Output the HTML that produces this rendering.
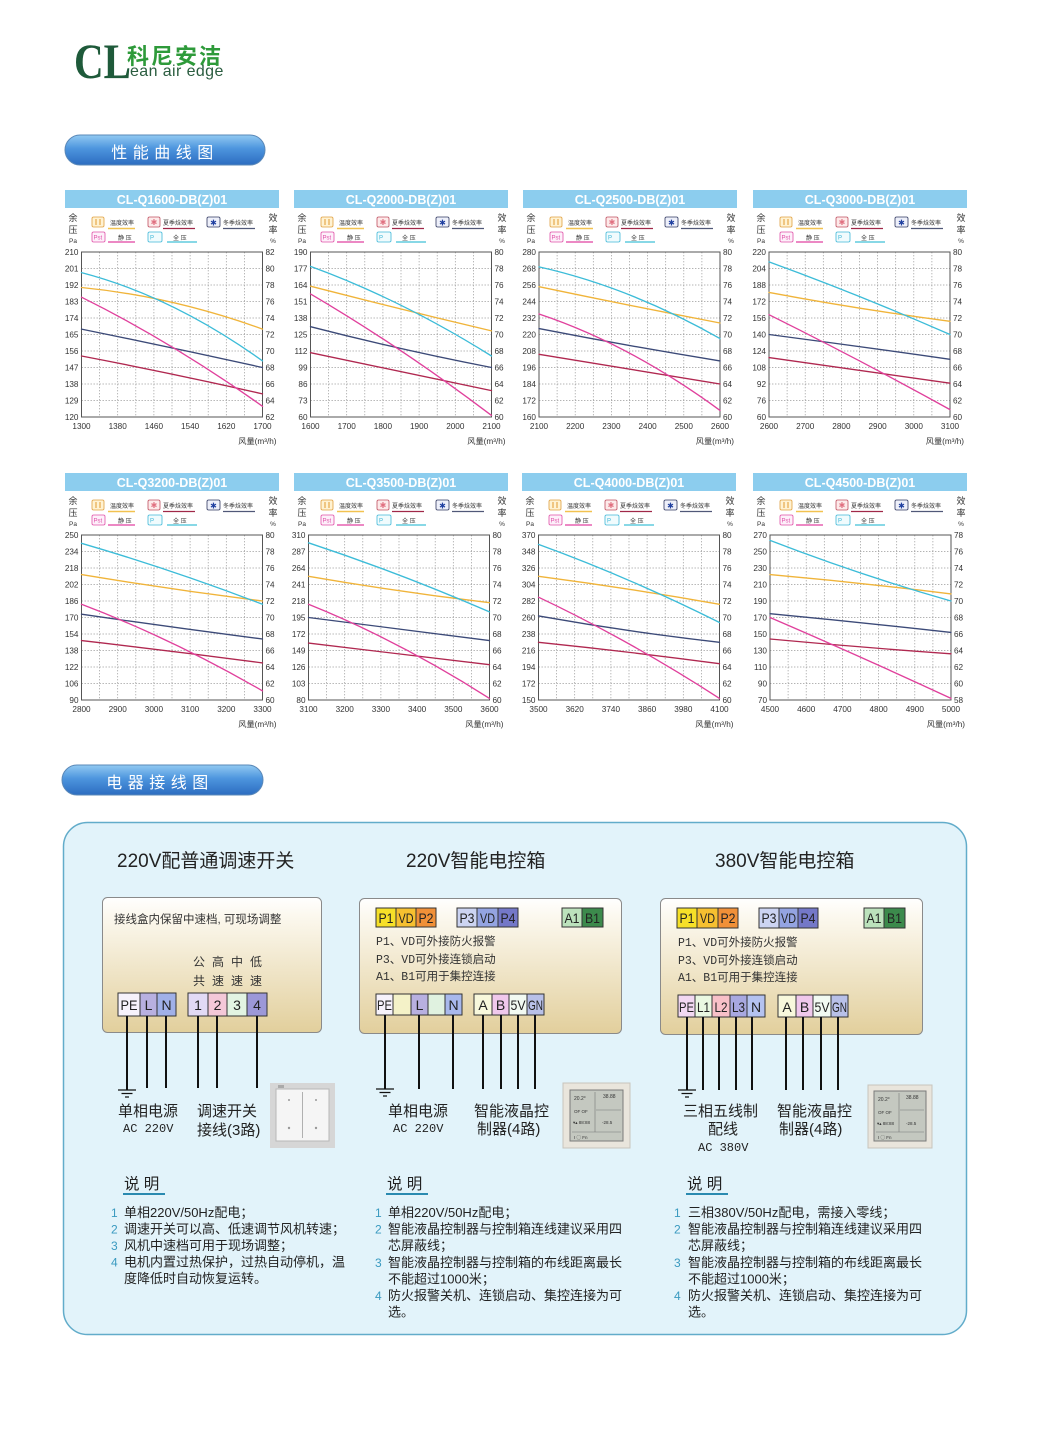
<!DOCTYPE html>
<html><head><meta charset="utf-8">
<style>
html,body{margin:0;padding:0;background:#fff}
svg{display:block}
svg text{font-family:"Liberation Sans","Noto Sans CJK SC",sans-serif}
.tk{font-size:8.2px;fill:#333}
.tt{font-size:12.5px;font-weight:bold;fill:#fff;text-anchor:middle}
.ax{font-size:9px;fill:#333;text-anchor:middle}
.pa{font-size:6.5px;fill:#333;text-anchor:middle}
.lg{font-size:6px;fill:#333}
.c{fill:none;stroke-width:1.35;stroke-linejoin:round;stroke-linecap:round}
.cy{stroke:#3cbcd8}.or{stroke:#f0b43a}.mg{stroke:#e0409c}.nv{stroke:#3c4a78}.cr{stroke:#b02850}
.w{stroke:#111;stroke-width:2;fill:none}
.tm{font-size:14px;fill:#222;text-anchor:middle}
.bt{font-size:11.5px;fill:#333;font-family:"Liberation Mono","Noto Sans CJK SC",monospace}
.lb{font-size:15px;fill:#222}
.ac{font-size:12px;fill:#222;font-family:"Liberation Mono",monospace}
.st{font-size:19px;fill:#222}
.nt{font-size:13px;fill:#222}
.nn{font-size:12px;fill:#3a9ac0}
.sm{font-size:15.5px;fill:#222}
</style></head><body>
<svg width="1049" height="1432" viewBox="0 0 1049 1432" xmlns="http://www.w3.org/2000/svg">
<defs>
<linearGradient id="pill" x1="0" y1="0" x2="0" y2="1">
<stop offset="0" stop-color="#92caf2"/><stop offset=".45" stop-color="#4d95de"/><stop offset="1" stop-color="#2c6cc0"/>
</linearGradient>
<linearGradient id="box" x1="0" y1="0" x2="0" y2="1">
<stop offset="0" stop-color="#ffffff"/><stop offset=".12" stop-color="#fcf9f0"/><stop offset="1" stop-color="#e2cf9c"/>
</linearGradient>
<g id="grid">
<path d="M0 16.5H181M0 33H181M0 49.5H181M0 66H181M0 82.5H181M0 99H181M0 115.5H181M0 132H181M0 148.5H181M18.1 0V165M36.2 0V165M54.3 0V165M72.4 0V165M90.5 0V165M108.6 0V165M126.7 0V165M144.8 0V165M162.9 0V165" stroke="#9a9a9a" stroke-width=".7" stroke-dasharray="1.4 1.6" fill="none"/>
<rect x="0" y="0" width="181" height="165" fill="none" stroke="#555" stroke-width="1"/>
</g>
</defs>
<rect width="1049" height="1432" fill="#fff"/>

<!-- Logo -->
<text x="74" y="78" font-family="Liberation Serif" font-weight="bold" font-size="50" fill="#1e5a3a" textLength="57" lengthAdjust="spacingAndGlyphs" style="font-family:'Liberation Serif',serif">CL</text>
<text x="127" y="64" font-size="22" font-weight="bold" fill="#2e9a3a" letter-spacing="2">科尼安洁</text>
<text x="130" y="76" font-size="16" fill="#2b5d40" letter-spacing=".4">ean air edge</text>

<!-- Section pill 1 -->
<rect x="65" y="135" width="200" height="30" rx="15" fill="url(#pill)" stroke="#5a88b8" stroke-width="1"/>
<text x="165" y="158" font-size="16" fill="#fff" text-anchor="middle" letter-spacing="5.5">性能曲线图</text>

<!-- ================= CHART 1 ================= -->
<g transform="translate(65,190)">
<rect width="214" height="18" fill="#8ccdee"/>
<text class="tt" x="107" y="14">CL-Q1600-DB(Z)01</text>
<text class="ax" x="8" y="31">余</text><text class="ax" x="8" y="43">压</text><text class="pa" x="8" y="53">Pa</text>
<text class="ax" x="208" y="31">效</text><text class="ax" x="208" y="43">率</text><text class="pa" x="208" y="53">%</text>
<rect x="27" y="27" width="12" height="10" rx="1.5" fill="#fff2d2" stroke="#e0a040" stroke-width=".8"/><path d="M31 29v6M35 29v6" stroke="#e09a30" stroke-width="1"/>
<text class="lg" x="45" y="35">温度效率</text><path d="M43 38.5H70" stroke="#f2c250" stroke-width="1.5"/>
<rect x="83" y="27" width="12" height="10" rx="1.5" fill="#fdeaea" stroke="#c05060" stroke-width=".8"/><text x="89" y="35" font-size="8" fill="#e07080" text-anchor="middle">✱</text>
<text class="lg" x="98" y="35">夏季焓效率</text><path d="M98 38.5H130" stroke="#a02848" stroke-width="1.3"/>
<rect x="142" y="27" width="13" height="10" rx="1.5" fill="#eef0fa" stroke="#303860" stroke-width=".8"/><text x="148.5" y="35.5" font-size="8" fill="#2040a0" text-anchor="middle">✱</text>
<text class="lg" x="158" y="35">冬季焓效率</text><path d="M158 38.5H190" stroke="#505878" stroke-width="1.3"/>
<rect x="27" y="42" width="13" height="10" rx="1.5" fill="#fdf0fa" stroke="#e050a8" stroke-width=".8"/><text x="28.5" y="49.5" font-size="6" fill="#e050a8">Pst</text>
<text class="lg" x="53" y="50">静 压</text><path d="M43 52H70" stroke="#e040a0" stroke-width="1.3"/>
<rect x="83" y="42" width="14" height="10" rx="1.5" fill="#f0fbfd" stroke="#40b8d8" stroke-width=".8"/><text x="85" y="49.5" font-size="6" fill="#40b8d8">P</text>
<text class="lg" x="108" y="50">全 压</text><path d="M102 52H132" stroke="#40c0d8" stroke-width="1.3"/>
<g transform="translate(16.5,62)">
<use href="#grid"/>
<path class="c cr" d="M0,104Q90.5,121.25 181,141.9"/>
<path class="c nv" d="M0,77.1Q90.5,95.6 181,115.5"/>
<path class="c mg" d="M0,45.2Q90.5,90.05 181,154.3"/>
<path class="c or" d="M0,35.5Q90.5,44.4 181,77.1"/>
<path class="c cy" d="M0,20.6Q90.5,44.15 181,108.9"/>
<text class="tk" text-anchor="end"><tspan x="-3" y="3">210</tspan><tspan x="-3" y="19.5">201</tspan><tspan x="-3" y="36">192</tspan><tspan x="-3" y="52.5">183</tspan><tspan x="-3" y="69">174</tspan><tspan x="-3" y="85.5">165</tspan><tspan x="-3" y="102">156</tspan><tspan x="-3" y="118.5">147</tspan><tspan x="-3" y="135">138</tspan><tspan x="-3" y="151.5">129</tspan><tspan x="-3" y="168">120</tspan></text>
<text class="tk"><tspan x="184" y="3">82</tspan><tspan x="184" y="19.5">80</tspan><tspan x="184" y="36">78</tspan><tspan x="184" y="52.5">76</tspan><tspan x="184" y="69">74</tspan><tspan x="184" y="85.5">72</tspan><tspan x="184" y="102">70</tspan><tspan x="184" y="118.5">68</tspan><tspan x="184" y="135">66</tspan><tspan x="184" y="151.5">64</tspan><tspan x="184" y="168">62</tspan></text>
<text class="tk" text-anchor="middle"><tspan x="0" y="177">1300</tspan><tspan x="36.2" y="177">1380</tspan><tspan x="72.4" y="177">1460</tspan><tspan x="108.6" y="177">1540</tspan><tspan x="144.8" y="177">1620</tspan><tspan x="181" y="177">1700</tspan></text>
<text class="tk" x="195" y="192" text-anchor="end">风量(m³/h)</text>
</g>
</g>

<!-- ================= CHART 2 ================= -->
<g transform="translate(294,190)">
<rect width="214" height="18" fill="#8ccdee"/>
<text class="tt" x="107" y="14">CL-Q2000-DB(Z)01</text>
<text class="ax" x="8" y="31">余</text><text class="ax" x="8" y="43">压</text><text class="pa" x="8" y="53">Pa</text>
<text class="ax" x="208" y="31">效</text><text class="ax" x="208" y="43">率</text><text class="pa" x="208" y="53">%</text>
<rect x="27" y="27" width="12" height="10" rx="1.5" fill="#fff2d2" stroke="#e0a040" stroke-width=".8"/><path d="M31 29v6M35 29v6" stroke="#e09a30" stroke-width="1"/>
<text class="lg" x="45" y="35">温度效率</text><path d="M43 38.5H70" stroke="#f2c250" stroke-width="1.5"/>
<rect x="83" y="27" width="12" height="10" rx="1.5" fill="#fdeaea" stroke="#c05060" stroke-width=".8"/><text x="89" y="35" font-size="8" fill="#e07080" text-anchor="middle">✱</text>
<text class="lg" x="98" y="35">夏季焓效率</text><path d="M98 38.5H130" stroke="#a02848" stroke-width="1.3"/>
<rect x="142" y="27" width="13" height="10" rx="1.5" fill="#eef0fa" stroke="#303860" stroke-width=".8"/><text x="148.5" y="35.5" font-size="8" fill="#2040a0" text-anchor="middle">✱</text>
<text class="lg" x="158" y="35">冬季焓效率</text><path d="M158 38.5H190" stroke="#505878" stroke-width="1.3"/>
<rect x="27" y="42" width="13" height="10" rx="1.5" fill="#fdf0fa" stroke="#e050a8" stroke-width=".8"/><text x="28.5" y="49.5" font-size="6" fill="#e050a8">Pst</text>
<text class="lg" x="53" y="50">静 压</text><path d="M43 52H70" stroke="#e040a0" stroke-width="1.3"/>
<rect x="83" y="42" width="14" height="10" rx="1.5" fill="#f0fbfd" stroke="#40b8d8" stroke-width=".8"/><text x="85" y="49.5" font-size="6" fill="#40b8d8">P</text>
<text class="lg" x="108" y="50">全 压</text><path d="M102 52H132" stroke="#40c0d8" stroke-width="1.3"/>
<g transform="translate(16.5,62)">
<use href="#grid"/>
<path class="c cr" d="M0,100.7Q90.5,119.65 181,138.6"/>
<path class="c nv" d="M0,74.7Q90.5,98 181,115.5"/>
<path class="c mg" d="M0,41.9Q90.5,95.05 181,163.4"/>
<path class="c or" d="M0,34.2Q90.5,57.45 181,78.9"/>
<path class="c cy" d="M0,14.4Q90.5,47.4 181,104"/>
<text class="tk" text-anchor="end"><tspan x="-3" y="3">190</tspan><tspan x="-3" y="19.5">177</tspan><tspan x="-3" y="36">164</tspan><tspan x="-3" y="52.5">151</tspan><tspan x="-3" y="69">138</tspan><tspan x="-3" y="85.5">125</tspan><tspan x="-3" y="102">112</tspan><tspan x="-3" y="118.5">99</tspan><tspan x="-3" y="135">86</tspan><tspan x="-3" y="151.5">73</tspan><tspan x="-3" y="168">60</tspan></text>
<text class="tk"><tspan x="184" y="3">80</tspan><tspan x="184" y="19.5">78</tspan><tspan x="184" y="36">76</tspan><tspan x="184" y="52.5">74</tspan><tspan x="184" y="69">72</tspan><tspan x="184" y="85.5">70</tspan><tspan x="184" y="102">68</tspan><tspan x="184" y="118.5">66</tspan><tspan x="184" y="135">64</tspan><tspan x="184" y="151.5">62</tspan><tspan x="184" y="168">60</tspan></text>
<text class="tk" text-anchor="middle"><tspan x="0" y="177">1600</tspan><tspan x="36.2" y="177">1700</tspan><tspan x="72.4" y="177">1800</tspan><tspan x="108.6" y="177">1900</tspan><tspan x="144.8" y="177">2000</tspan><tspan x="181" y="177">2100</tspan></text>
<text class="tk" x="195" y="192" text-anchor="end">风量(m³/h)</text>
</g>
</g>

<!-- ================= CHART 3 ================= -->
<g transform="translate(523,190)">
<rect width="214" height="18" fill="#8ccdee"/>
<text class="tt" x="107" y="14">CL-Q2500-DB(Z)01</text>
<text class="ax" x="8" y="31">余</text><text class="ax" x="8" y="43">压</text><text class="pa" x="8" y="53">Pa</text>
<text class="ax" x="208" y="31">效</text><text class="ax" x="208" y="43">率</text><text class="pa" x="208" y="53">%</text>
<rect x="27" y="27" width="12" height="10" rx="1.5" fill="#fff2d2" stroke="#e0a040" stroke-width=".8"/><path d="M31 29v6M35 29v6" stroke="#e09a30" stroke-width="1"/>
<text class="lg" x="45" y="35">温度效率</text><path d="M43 38.5H70" stroke="#f2c250" stroke-width="1.5"/>
<rect x="83" y="27" width="12" height="10" rx="1.5" fill="#fdeaea" stroke="#c05060" stroke-width=".8"/><text x="89" y="35" font-size="8" fill="#e07080" text-anchor="middle">✱</text>
<text class="lg" x="98" y="35">夏季焓效率</text><path d="M98 38.5H130" stroke="#a02848" stroke-width="1.3"/>
<rect x="142" y="27" width="13" height="10" rx="1.5" fill="#eef0fa" stroke="#303860" stroke-width=".8"/><text x="148.5" y="35.5" font-size="8" fill="#2040a0" text-anchor="middle">✱</text>
<text class="lg" x="158" y="35">冬季焓效率</text><path d="M158 38.5H190" stroke="#505878" stroke-width="1.3"/>
<rect x="27" y="42" width="13" height="10" rx="1.5" fill="#fdf0fa" stroke="#e050a8" stroke-width=".8"/><text x="28.5" y="49.5" font-size="6" fill="#e050a8">Pst</text>
<text class="lg" x="53" y="50">静 压</text><path d="M43 52H70" stroke="#e040a0" stroke-width="1.3"/>
<rect x="83" y="42" width="14" height="10" rx="1.5" fill="#f0fbfd" stroke="#40b8d8" stroke-width=".8"/><text x="85" y="49.5" font-size="6" fill="#40b8d8">P</text>
<text class="lg" x="108" y="50">全 压</text><path d="M102 52H132" stroke="#40c0d8" stroke-width="1.3"/>
<g transform="translate(16,62)">
<use href="#grid"/>
<path class="c cr" d="M0,102.3Q90.5,117.25 181,132"/>
<path class="c nv" d="M0,76.6Q90.5,94.25 181,108.9"/>
<path class="c mg" d="M0,62Q90.5,92.1 181,158.4"/>
<path class="c or" d="M0,34.7Q90.5,53.65 181,71"/>
<path class="c cy" d="M0,14.9Q90.5,35.05 181,86.6"/>
<text class="tk" text-anchor="end"><tspan x="-3" y="3">280</tspan><tspan x="-3" y="19.5">268</tspan><tspan x="-3" y="36">256</tspan><tspan x="-3" y="52.5">244</tspan><tspan x="-3" y="69">232</tspan><tspan x="-3" y="85.5">220</tspan><tspan x="-3" y="102">208</tspan><tspan x="-3" y="118.5">196</tspan><tspan x="-3" y="135">184</tspan><tspan x="-3" y="151.5">172</tspan><tspan x="-3" y="168">160</tspan></text>
<text class="tk"><tspan x="184" y="3">80</tspan><tspan x="184" y="19.5">78</tspan><tspan x="184" y="36">76</tspan><tspan x="184" y="52.5">74</tspan><tspan x="184" y="69">72</tspan><tspan x="184" y="85.5">70</tspan><tspan x="184" y="102">68</tspan><tspan x="184" y="118.5">66</tspan><tspan x="184" y="135">64</tspan><tspan x="184" y="151.5">62</tspan><tspan x="184" y="168">60</tspan></text>
<text class="tk" text-anchor="middle"><tspan x="0" y="177">2100</tspan><tspan x="36.2" y="177">2200</tspan><tspan x="72.4" y="177">2300</tspan><tspan x="108.6" y="177">2400</tspan><tspan x="144.8" y="177">2500</tspan><tspan x="181" y="177">2600</tspan></text>
<text class="tk" x="195" y="192" text-anchor="end">风量(m³/h)</text>
</g>
</g>

<!-- ================= CHART 4 ================= -->
<g transform="translate(753,190)">
<rect width="214" height="18" fill="#8ccdee"/>
<text class="tt" x="107" y="14">CL-Q3000-DB(Z)01</text>
<text class="ax" x="8" y="31">余</text><text class="ax" x="8" y="43">压</text><text class="pa" x="8" y="53">Pa</text>
<text class="ax" x="208" y="31">效</text><text class="ax" x="208" y="43">率</text><text class="pa" x="208" y="53">%</text>
<rect x="27" y="27" width="12" height="10" rx="1.5" fill="#fff2d2" stroke="#e0a040" stroke-width=".8"/><path d="M31 29v6M35 29v6" stroke="#e09a30" stroke-width="1"/>
<text class="lg" x="45" y="35">温度效率</text><path d="M43 38.5H70" stroke="#f2c250" stroke-width="1.5"/>
<rect x="83" y="27" width="12" height="10" rx="1.5" fill="#fdeaea" stroke="#c05060" stroke-width=".8"/><text x="89" y="35" font-size="8" fill="#e07080" text-anchor="middle">✱</text>
<text class="lg" x="98" y="35">夏季焓效率</text><path d="M98 38.5H130" stroke="#a02848" stroke-width="1.3"/>
<rect x="142" y="27" width="13" height="10" rx="1.5" fill="#eef0fa" stroke="#303860" stroke-width=".8"/><text x="148.5" y="35.5" font-size="8" fill="#2040a0" text-anchor="middle">✱</text>
<text class="lg" x="158" y="35">冬季焓效率</text><path d="M158 38.5H190" stroke="#505878" stroke-width="1.3"/>
<rect x="27" y="42" width="13" height="10" rx="1.5" fill="#fdf0fa" stroke="#e050a8" stroke-width=".8"/><text x="28.5" y="49.5" font-size="6" fill="#e050a8">Pst</text>
<text class="lg" x="53" y="50">静 压</text><path d="M43 52H70" stroke="#e040a0" stroke-width="1.3"/>
<rect x="83" y="42" width="14" height="10" rx="1.5" fill="#f0fbfd" stroke="#40b8d8" stroke-width=".8"/><text x="85" y="49.5" font-size="6" fill="#40b8d8">P</text>
<text class="lg" x="108" y="50">全 压</text><path d="M102 52H132" stroke="#40c0d8" stroke-width="1.3"/>
<g transform="translate(16,62)">
<use href="#grid"/>
<path class="c cr" d="M0,105.6Q90.5,118.4 181,131.2"/>
<path class="c nv" d="M0,82.5Q90.5,94.4 181,107.3"/>
<path class="c mg" d="M0,62.7Q90.5,107.65 181,157.6"/>
<path class="c or" d="M0,40.4Q90.5,57.35 181,69.3"/>
<path class="c cy" d="M0,9.9Q90.5,42.9 181,82.5"/>
<text class="tk" text-anchor="end"><tspan x="-3" y="3">220</tspan><tspan x="-3" y="19.5">204</tspan><tspan x="-3" y="36">188</tspan><tspan x="-3" y="52.5">172</tspan><tspan x="-3" y="69">156</tspan><tspan x="-3" y="85.5">140</tspan><tspan x="-3" y="102">124</tspan><tspan x="-3" y="118.5">108</tspan><tspan x="-3" y="135">92</tspan><tspan x="-3" y="151.5">76</tspan><tspan x="-3" y="168">60</tspan></text>
<text class="tk"><tspan x="184" y="3">80</tspan><tspan x="184" y="19.5">78</tspan><tspan x="184" y="36">76</tspan><tspan x="184" y="52.5">74</tspan><tspan x="184" y="69">72</tspan><tspan x="184" y="85.5">70</tspan><tspan x="184" y="102">68</tspan><tspan x="184" y="118.5">66</tspan><tspan x="184" y="135">64</tspan><tspan x="184" y="151.5">62</tspan><tspan x="184" y="168">60</tspan></text>
<text class="tk" text-anchor="middle"><tspan x="0" y="177">2600</tspan><tspan x="36.2" y="177">2700</tspan><tspan x="72.4" y="177">2800</tspan><tspan x="108.6" y="177">2900</tspan><tspan x="144.8" y="177">3000</tspan><tspan x="181" y="177">3100</tspan></text>
<text class="tk" x="195" y="192" text-anchor="end">风量(m³/h)</text>
</g>
</g>

<!-- ================= CHART 5 ================= -->
<g transform="translate(65,473)">
<rect width="214" height="18" fill="#8ccdee"/>
<text class="tt" x="107" y="14">CL-Q3200-DB(Z)01</text>
<text class="ax" x="8" y="31">余</text><text class="ax" x="8" y="43">压</text><text class="pa" x="8" y="53">Pa</text>
<text class="ax" x="208" y="31">效</text><text class="ax" x="208" y="43">率</text><text class="pa" x="208" y="53">%</text>
<rect x="27" y="27" width="12" height="10" rx="1.5" fill="#fff2d2" stroke="#e0a040" stroke-width=".8"/><path d="M31 29v6M35 29v6" stroke="#e09a30" stroke-width="1"/>
<text class="lg" x="45" y="35">温度效率</text><path d="M43 38.5H70" stroke="#f2c250" stroke-width="1.5"/>
<rect x="83" y="27" width="12" height="10" rx="1.5" fill="#fdeaea" stroke="#c05060" stroke-width=".8"/><text x="89" y="35" font-size="8" fill="#e07080" text-anchor="middle">✱</text>
<text class="lg" x="98" y="35">夏季焓效率</text><path d="M98 38.5H130" stroke="#a02848" stroke-width="1.3"/>
<rect x="142" y="27" width="13" height="10" rx="1.5" fill="#eef0fa" stroke="#303860" stroke-width=".8"/><text x="148.5" y="35.5" font-size="8" fill="#2040a0" text-anchor="middle">✱</text>
<text class="lg" x="158" y="35">冬季焓效率</text><path d="M158 38.5H190" stroke="#505878" stroke-width="1.3"/>
<rect x="27" y="42" width="13" height="10" rx="1.5" fill="#fdf0fa" stroke="#e050a8" stroke-width=".8"/><text x="28.5" y="49.5" font-size="6" fill="#e050a8">Pst</text>
<text class="lg" x="53" y="50">静 压</text><path d="M43 52H70" stroke="#e040a0" stroke-width="1.3"/>
<rect x="83" y="42" width="14" height="10" rx="1.5" fill="#f0fbfd" stroke="#40b8d8" stroke-width=".8"/><text x="85" y="49.5" font-size="6" fill="#40b8d8">P</text>
<text class="lg" x="108" y="50">全 压</text><path d="M102 52H132" stroke="#40c0d8" stroke-width="1.3"/>
<g transform="translate(16.5,62)">
<use href="#grid"/>
<path class="c cr" d="M0,105.6Q90.5,115.95 181,127.9"/>
<path class="c nv" d="M0,79.2Q90.5,92.4 181,104"/>
<path class="c mg" d="M0,69.3Q90.5,103.6 181,155.9"/>
<path class="c or" d="M0,39.6Q90.5,54.6 181,66"/>
<path class="c cy" d="M0,8.3Q90.5,34.6 181,69.3"/>
<text class="tk" text-anchor="end"><tspan x="-3" y="3">250</tspan><tspan x="-3" y="19.5">234</tspan><tspan x="-3" y="36">218</tspan><tspan x="-3" y="52.5">202</tspan><tspan x="-3" y="69">186</tspan><tspan x="-3" y="85.5">170</tspan><tspan x="-3" y="102">154</tspan><tspan x="-3" y="118.5">138</tspan><tspan x="-3" y="135">122</tspan><tspan x="-3" y="151.5">106</tspan><tspan x="-3" y="168">90</tspan></text>
<text class="tk"><tspan x="184" y="3">80</tspan><tspan x="184" y="19.5">78</tspan><tspan x="184" y="36">76</tspan><tspan x="184" y="52.5">74</tspan><tspan x="184" y="69">72</tspan><tspan x="184" y="85.5">70</tspan><tspan x="184" y="102">68</tspan><tspan x="184" y="118.5">66</tspan><tspan x="184" y="135">64</tspan><tspan x="184" y="151.5">62</tspan><tspan x="184" y="168">60</tspan></text>
<text class="tk" text-anchor="middle"><tspan x="0" y="177">2800</tspan><tspan x="36.2" y="177">2900</tspan><tspan x="72.4" y="177">3000</tspan><tspan x="108.6" y="177">3100</tspan><tspan x="144.8" y="177">3200</tspan><tspan x="181" y="177">3300</tspan></text>
<text class="tk" x="195" y="192" text-anchor="end">风量(m³/h)</text>
</g>
</g>

<!-- ================= CHART 6 ================= -->
<g transform="translate(294,473)">
<rect width="214" height="18" fill="#8ccdee"/>
<text class="tt" x="107" y="14">CL-Q3500-DB(Z)01</text>
<text class="ax" x="8" y="31">余</text><text class="ax" x="8" y="43">压</text><text class="pa" x="8" y="53">Pa</text>
<text class="ax" x="208" y="31">效</text><text class="ax" x="208" y="43">率</text><text class="pa" x="208" y="53">%</text>
<rect x="27" y="27" width="12" height="10" rx="1.5" fill="#fff2d2" stroke="#e0a040" stroke-width=".8"/><path d="M31 29v6M35 29v6" stroke="#e09a30" stroke-width="1"/>
<text class="lg" x="45" y="35">温度效率</text><path d="M43 38.5H70" stroke="#f2c250" stroke-width="1.5"/>
<rect x="83" y="27" width="12" height="10" rx="1.5" fill="#fdeaea" stroke="#c05060" stroke-width=".8"/><text x="89" y="35" font-size="8" fill="#e07080" text-anchor="middle">✱</text>
<text class="lg" x="98" y="35">夏季焓效率</text><path d="M98 38.5H130" stroke="#a02848" stroke-width="1.3"/>
<rect x="142" y="27" width="13" height="10" rx="1.5" fill="#eef0fa" stroke="#303860" stroke-width=".8"/><text x="148.5" y="35.5" font-size="8" fill="#2040a0" text-anchor="middle">✱</text>
<text class="lg" x="158" y="35">冬季焓效率</text><path d="M158 38.5H190" stroke="#505878" stroke-width="1.3"/>
<rect x="27" y="42" width="13" height="10" rx="1.5" fill="#fdf0fa" stroke="#e050a8" stroke-width=".8"/><text x="28.5" y="49.5" font-size="6" fill="#e050a8">Pst</text>
<text class="lg" x="53" y="50">静 压</text><path d="M43 52H70" stroke="#e040a0" stroke-width="1.3"/>
<rect x="83" y="42" width="14" height="10" rx="1.5" fill="#f0fbfd" stroke="#40b8d8" stroke-width=".8"/><text x="85" y="49.5" font-size="6" fill="#40b8d8">P</text>
<text class="lg" x="108" y="50">全 压</text><path d="M102 52H132" stroke="#40c0d8" stroke-width="1.3"/>
<g transform="translate(14.5,62)">
<use href="#grid"/>
<path class="c cr" d="M0,108.1Q90.5,118.7 181,129.7"/>
<path class="c nv" d="M0,82.5Q90.5,93.85 181,105.6"/>
<path class="c mg" d="M0,69.3Q90.5,105.65 181,163.4"/>
<path class="c or" d="M0,41.3Q90.5,56.9 181,67.7"/>
<path class="c cy" d="M0,7.8Q90.5,37.75 181,76.9"/>
<text class="tk" text-anchor="end"><tspan x="-3" y="3">310</tspan><tspan x="-3" y="19.5">287</tspan><tspan x="-3" y="36">264</tspan><tspan x="-3" y="52.5">241</tspan><tspan x="-3" y="69">218</tspan><tspan x="-3" y="85.5">195</tspan><tspan x="-3" y="102">172</tspan><tspan x="-3" y="118.5">149</tspan><tspan x="-3" y="135">126</tspan><tspan x="-3" y="151.5">103</tspan><tspan x="-3" y="168">80</tspan></text>
<text class="tk"><tspan x="184" y="3">80</tspan><tspan x="184" y="19.5">78</tspan><tspan x="184" y="36">76</tspan><tspan x="184" y="52.5">74</tspan><tspan x="184" y="69">72</tspan><tspan x="184" y="85.5">70</tspan><tspan x="184" y="102">68</tspan><tspan x="184" y="118.5">66</tspan><tspan x="184" y="135">64</tspan><tspan x="184" y="151.5">62</tspan><tspan x="184" y="168">60</tspan></text>
<text class="tk" text-anchor="middle"><tspan x="0" y="177">3100</tspan><tspan x="36.2" y="177">3200</tspan><tspan x="72.4" y="177">3300</tspan><tspan x="108.6" y="177">3400</tspan><tspan x="144.8" y="177">3500</tspan><tspan x="181" y="177">3600</tspan></text>
<text class="tk" x="195" y="192" text-anchor="end">风量(m³/h)</text>
</g>
</g>

<!-- ================= CHART 7 ================= -->
<g transform="translate(522,473)">
<rect width="214" height="18" fill="#8ccdee"/>
<text class="tt" x="107" y="14">CL-Q4000-DB(Z)01</text>
<text class="ax" x="8" y="31">余</text><text class="ax" x="8" y="43">压</text><text class="pa" x="8" y="53">Pa</text>
<text class="ax" x="208" y="31">效</text><text class="ax" x="208" y="43">率</text><text class="pa" x="208" y="53">%</text>
<rect x="27" y="27" width="12" height="10" rx="1.5" fill="#fff2d2" stroke="#e0a040" stroke-width=".8"/><path d="M31 29v6M35 29v6" stroke="#e09a30" stroke-width="1"/>
<text class="lg" x="45" y="35">温度效率</text><path d="M43 38.5H70" stroke="#f2c250" stroke-width="1.5"/>
<rect x="83" y="27" width="12" height="10" rx="1.5" fill="#fdeaea" stroke="#c05060" stroke-width=".8"/><text x="89" y="35" font-size="8" fill="#e07080" text-anchor="middle">✱</text>
<text class="lg" x="98" y="35">夏季焓效率</text><path d="M98 38.5H130" stroke="#a02848" stroke-width="1.3"/>
<rect x="142" y="27" width="13" height="10" rx="1.5" fill="#eef0fa" stroke="#303860" stroke-width=".8"/><text x="148.5" y="35.5" font-size="8" fill="#2040a0" text-anchor="middle">✱</text>
<text class="lg" x="158" y="35">冬季焓效率</text><path d="M158 38.5H190" stroke="#505878" stroke-width="1.3"/>
<rect x="27" y="42" width="13" height="10" rx="1.5" fill="#fdf0fa" stroke="#e050a8" stroke-width=".8"/><text x="28.5" y="49.5" font-size="6" fill="#e050a8">Pst</text>
<text class="lg" x="53" y="50">静 压</text><path d="M43 52H70" stroke="#e040a0" stroke-width="1.3"/>
<rect x="83" y="42" width="14" height="10" rx="1.5" fill="#f0fbfd" stroke="#40b8d8" stroke-width=".8"/><text x="85" y="49.5" font-size="6" fill="#40b8d8">P</text>
<text class="lg" x="108" y="50">全 压</text><path d="M102 52H132" stroke="#40c0d8" stroke-width="1.3"/>
<g transform="translate(16.5,62)">
<use href="#grid"/>
<path class="c cr" d="M0,107.3Q90.5,116.6 181,128.7"/>
<path class="c nv" d="M0,80.9Q90.5,97 181,107.3"/>
<path class="c mg" d="M0,62.2Q90.5,105 181,163.4"/>
<path class="c or" d="M0,41.3Q90.5,53.2 181,69.3"/>
<path class="c cy" d="M0,9.4Q90.5,42.35 181,87.5"/>
<text class="tk" text-anchor="end"><tspan x="-3" y="3">370</tspan><tspan x="-3" y="19.5">348</tspan><tspan x="-3" y="36">326</tspan><tspan x="-3" y="52.5">304</tspan><tspan x="-3" y="69">282</tspan><tspan x="-3" y="85.5">260</tspan><tspan x="-3" y="102">238</tspan><tspan x="-3" y="118.5">216</tspan><tspan x="-3" y="135">194</tspan><tspan x="-3" y="151.5">172</tspan><tspan x="-3" y="168">150</tspan></text>
<text class="tk"><tspan x="184" y="3">80</tspan><tspan x="184" y="19.5">78</tspan><tspan x="184" y="36">76</tspan><tspan x="184" y="52.5">74</tspan><tspan x="184" y="69">72</tspan><tspan x="184" y="85.5">70</tspan><tspan x="184" y="102">68</tspan><tspan x="184" y="118.5">66</tspan><tspan x="184" y="135">64</tspan><tspan x="184" y="151.5">62</tspan><tspan x="184" y="168">60</tspan></text>
<text class="tk" text-anchor="middle"><tspan x="0" y="177">3500</tspan><tspan x="36.2" y="177">3620</tspan><tspan x="72.4" y="177">3740</tspan><tspan x="108.6" y="177">3860</tspan><tspan x="144.8" y="177">3980</tspan><tspan x="181" y="177">4100</tspan></text>
<text class="tk" x="195" y="192" text-anchor="end">风量(m³/h)</text>
</g>
</g>

<!-- ================= CHART 8 ================= -->
<g transform="translate(753,473)">
<rect width="214" height="18" fill="#8ccdee"/>
<text class="tt" x="107" y="14">CL-Q4500-DB(Z)01</text>
<text class="ax" x="8" y="31">余</text><text class="ax" x="8" y="43">压</text><text class="pa" x="8" y="53">Pa</text>
<text class="ax" x="208" y="31">效</text><text class="ax" x="208" y="43">率</text><text class="pa" x="208" y="53">%</text>
<rect x="27" y="27" width="12" height="10" rx="1.5" fill="#fff2d2" stroke="#e0a040" stroke-width=".8"/><path d="M31 29v6M35 29v6" stroke="#e09a30" stroke-width="1"/>
<text class="lg" x="45" y="35">温度效率</text><path d="M43 38.5H70" stroke="#f2c250" stroke-width="1.5"/>
<rect x="83" y="27" width="12" height="10" rx="1.5" fill="#fdeaea" stroke="#c05060" stroke-width=".8"/><text x="89" y="35" font-size="8" fill="#e07080" text-anchor="middle">✱</text>
<text class="lg" x="98" y="35">夏季焓效率</text><path d="M98 38.5H130" stroke="#a02848" stroke-width="1.3"/>
<rect x="142" y="27" width="13" height="10" rx="1.5" fill="#eef0fa" stroke="#303860" stroke-width=".8"/><text x="148.5" y="35.5" font-size="8" fill="#2040a0" text-anchor="middle">✱</text>
<text class="lg" x="158" y="35">冬季焓效率</text><path d="M158 38.5H190" stroke="#505878" stroke-width="1.3"/>
<rect x="27" y="42" width="13" height="10" rx="1.5" fill="#fdf0fa" stroke="#e050a8" stroke-width=".8"/><text x="28.5" y="49.5" font-size="6" fill="#e050a8">Pst</text>
<text class="lg" x="53" y="50">静 压</text><path d="M43 52H70" stroke="#e040a0" stroke-width="1.3"/>
<rect x="83" y="42" width="14" height="10" rx="1.5" fill="#f0fbfd" stroke="#40b8d8" stroke-width=".8"/><text x="85" y="49.5" font-size="6" fill="#40b8d8">P</text>
<text class="lg" x="108" y="50">全 压</text><path d="M102 52H132" stroke="#40c0d8" stroke-width="1.3"/>
<g transform="translate(17,62)">
<use href="#grid"/>
<path class="c cr" d="M0,104Q90.5,112.4 181,118.8"/>
<path class="c nv" d="M0,78.7Q90.5,87.35 181,97.4"/>
<path class="c mg" d="M0,82.5Q90.5,121.35 181,163.4"/>
<path class="c or" d="M0,39.6Q90.5,47.65 181,58.9"/>
<path class="c cy" d="M0,5.4Q90.5,40.3 181,66"/>
<text class="tk" text-anchor="end"><tspan x="-3" y="3">270</tspan><tspan x="-3" y="19.5">250</tspan><tspan x="-3" y="36">230</tspan><tspan x="-3" y="52.5">210</tspan><tspan x="-3" y="69">190</tspan><tspan x="-3" y="85.5">170</tspan><tspan x="-3" y="102">150</tspan><tspan x="-3" y="118.5">130</tspan><tspan x="-3" y="135">110</tspan><tspan x="-3" y="151.5">90</tspan><tspan x="-3" y="168">70</tspan></text>
<text class="tk"><tspan x="184" y="3">78</tspan><tspan x="184" y="19.5">76</tspan><tspan x="184" y="36">74</tspan><tspan x="184" y="52.5">72</tspan><tspan x="184" y="69">70</tspan><tspan x="184" y="85.5">68</tspan><tspan x="184" y="102">66</tspan><tspan x="184" y="118.5">64</tspan><tspan x="184" y="135">62</tspan><tspan x="184" y="151.5">60</tspan><tspan x="184" y="168">58</tspan></text>
<text class="tk" text-anchor="middle"><tspan x="0" y="177">4500</tspan><tspan x="36.2" y="177">4600</tspan><tspan x="72.4" y="177">4700</tspan><tspan x="108.6" y="177">4800</tspan><tspan x="144.8" y="177">4900</tspan><tspan x="181" y="177">5000</tspan></text>
<text class="tk" x="195" y="192" text-anchor="end">风量(m³/h)</text>
</g>
</g>

<!-- Section pill 2 -->
<rect x="62" y="765" width="201" height="30" rx="15" fill="url(#pill)" stroke="#5a88b8" stroke-width="1"/>
<text x="160" y="788" font-size="16" fill="#fff" text-anchor="middle" letter-spacing="5.5">电器接线图</text>

<!-- Wiring panel -->
<rect x="63.5" y="822.5" width="903" height="512" rx="24" fill="#e2f3fa" stroke="#62acca" stroke-width="1.5"/>

<text class="st" x="117" y="867">220V配普通调速开关</text>
<text class="st" x="406" y="867">220V智能电控箱</text>
<text class="st" x="715" y="867">380V智能电控箱</text>

<!-- Box 1 -->
<rect x="102.5" y="897.5" width="219" height="135" rx="5" fill="url(#box)" stroke="#8a8a8a" stroke-width="1"/>
<text x="114" y="923" font-size="11.5" fill="#333">接线盒内保留中速档, 可现场调整</text>
<text font-size="12" fill="#333"><tspan x="193" y="966">公</tspan><tspan x="212" y="966">高</tspan><tspan x="231" y="966">中</tspan><tspan x="250" y="966">低</tspan></text>
<text font-size="12" fill="#333"><tspan x="193" y="985">共</tspan><tspan x="212" y="985">速</tspan><tspan x="231" y="985">速</tspan><tspan x="250" y="985">速</tspan></text>
<g stroke="#333" stroke-width="1">
<rect x="118" y="993" width="22" height="23" fill="#f6f2fb"/>
<rect x="140" y="993" width="17" height="23" fill="#b8b0e0"/>
<rect x="157" y="993" width="19" height="23" fill="#a0b0e8"/>
<rect x="188" y="993" width="20" height="23" fill="#e2daf5"/>
<rect x="208" y="993" width="19" height="23" fill="#f4c8d8"/>
<rect x="227" y="993" width="20" height="23" fill="#e2f4e2"/>
<rect x="247" y="993" width="20" height="23" fill="#9c98d8"/>
</g>
<text class="tm" x="129" y="1010" textLength="17" lengthAdjust="spacingAndGlyphs">PE</text>
<text class="tm" x="148.5" y="1010">L</text>
<text class="tm" x="166.5" y="1010">N</text>
<text class="tm" x="198" y="1010">1</text>
<text class="tm" x="217.5" y="1010">2</text>
<text class="tm" x="237" y="1010">3</text>
<text class="tm" x="257" y="1010">4</text>
<path class="w" d="M127 1016V1090M147 1016V1088M166 1016V1088M198 1016V1088M217 1016V1088M257 1016V1088"/>
<path d="M118 1090H136M121.5 1093.5H132.5M125 1097H129" stroke="#111" stroke-width="1.3"/>
<text class="lb" x="118" y="1116">单相电源</text>
<text class="ac" x="123" y="1132">AC 220V</text>
<text class="lb" x="197" y="1116">调速开关</text>
<text class="lb" x="197" y="1135">接线(3路)</text>
<!-- switch picture -->
<rect x="270" y="1083" width="65" height="65" fill="#d6d6d6"/>
<rect x="276" y="1089" width="53" height="52" fill="#f5f5f5" stroke="#b8b8b8"/>
<line x1="302.5" y1="1092" x2="302.5" y2="1138" stroke="#b0b0b0"/>
<rect x="278" y="1085" width="6" height="3" fill="#aaa"/>
<circle cx="289" cy="1100" r="1" fill="#999"/><circle cx="289" cy="1128" r="1.2" fill="#999"/>
<circle cx="316" cy="1100" r="1" fill="#999"/><circle cx="316" cy="1128" r="1.2" fill="#999"/>

<!-- Box 2 -->
<rect x="359.5" y="898.5" width="262" height="135" rx="5" fill="url(#box)" stroke="#8a8a8a" stroke-width="1"/>
<g stroke="#333" stroke-width="1">
<rect x="376" y="908" width="20" height="19" fill="#f6e028"/>
<rect x="396" y="908" width="20" height="19" fill="#f6c030"/>
<rect x="416" y="908" width="20" height="19" fill="#f09038"/>
<rect x="457" y="908" width="20" height="19" fill="#ccd4f2"/>
<rect x="477" y="908" width="21" height="19" fill="#94a4e2"/>
<rect x="498" y="908" width="20" height="19" fill="#7478c8"/>
<rect x="562" y="908" width="20" height="19" fill="#bce2bc"/>
<rect x="582" y="908" width="21" height="19" fill="#3c8a4c"/>
<rect x="376" y="994" width="17" height="21" fill="#f6f2fb"/>
<rect x="393" y="994" width="18" height="21" fill="#f4f2c8"/>
<rect x="411" y="994" width="17" height="21" fill="#b8b0e0"/>
<rect x="428" y="994" width="17" height="21" fill="#e0f2e0"/>
<rect x="445" y="994" width="17" height="21" fill="#a8b8ec"/>
<rect x="474" y="994" width="18" height="21" fill="#f8f8dc"/>
<rect x="492" y="994" width="17" height="21" fill="#f0c8ec"/>
<rect x="509" y="994" width="18" height="21" fill="#f2faf2"/>
<rect x="527" y="994" width="17" height="21" fill="#b8c0e8"/>
</g>
<text class="tm" x="386" y="923" textLength="15" lengthAdjust="spacingAndGlyphs">P1</text>
<text class="tm" x="406" y="923" textLength="15" lengthAdjust="spacingAndGlyphs">VD</text>
<text class="tm" x="426" y="923" textLength="15" lengthAdjust="spacingAndGlyphs">P2</text>
<text class="tm" x="467" y="923" textLength="15" lengthAdjust="spacingAndGlyphs">P3</text>
<text class="tm" x="487.5" y="923" textLength="15" lengthAdjust="spacingAndGlyphs">VD</text>
<text class="tm" x="508" y="923" textLength="15" lengthAdjust="spacingAndGlyphs">P4</text>
<text class="tm" x="572" y="923" textLength="15" lengthAdjust="spacingAndGlyphs">A1</text>
<text class="tm" x="592.5" y="923" textLength="15" lengthAdjust="spacingAndGlyphs">B1</text>
<text class="bt" x="376" y="945">P1、VD可外接防火报警</text>
<text class="bt" x="376" y="963">P3、VD可外接连锁启动</text>
<text class="bt" x="376" y="980">A1、B1可用于集控连接</text>
<text class="tm" x="384.5" y="1010" textLength="15" lengthAdjust="spacingAndGlyphs">PE</text>
<text class="tm" x="419.5" y="1010">L</text>
<text class="tm" x="453.5" y="1010">N</text>
<text class="tm" x="483" y="1010">A</text>
<text class="tm" x="500.5" y="1010">B</text>
<text class="tm" x="518" y="1010" textLength="15" lengthAdjust="spacingAndGlyphs">5V</text>
<text class="tm" x="535.5" y="1010" textLength="15" lengthAdjust="spacingAndGlyphs">GN</text>
<path class="w" d="M385 1015V1089M419 1015V1089M453 1015V1089M483 1015V1089M501 1015V1089M518 1015V1089M535 1015V1089"/>
<path d="M376 1089H394M379.5 1092.5H390.5M383 1096H387" stroke="#111" stroke-width="1.3"/>
<text class="lb" x="388" y="1116">单相电源</text>
<text class="ac" x="393" y="1132">AC 220V</text>
<text class="lb" x="474" y="1116">智能液晶控</text>
<text class="lb" x="477" y="1134">制器(4路)</text>
<!-- controller 1 -->
<rect x="563" y="1083" width="67" height="65" fill="#e9e5dc" stroke="#c8c4bc"/>
<rect x="570" y="1090" width="53" height="51" fill="#c4c8c0" stroke="#7a7a7a"/>
<path d="M595 1092V1132M572 1132H621M596 1110H621" stroke="#777" stroke-width=".6" fill="none"/>
<text x="574" y="1100" font-size="5" fill="#333">20.2°</text>
<text x="603" y="1098" font-size="5" fill="#333">38.88</text>
<text x="574" y="1113" font-size="4.5" fill="#333">OF OF</text>
<text x="573" y="1124" font-size="4.5" fill="#333">▾▴ 88:88</text>
<text x="602" y="1124" font-size="4.5" fill="#333">-28.5</text>
<text x="574" y="1139" font-size="4.5" fill="#333">I  ◯      Fn</text>

<!-- Box 3 -->
<rect x="660.5" y="898.5" width="262" height="136" rx="5" fill="url(#box)" stroke="#8a8a8a" stroke-width="1"/>
<g stroke="#333" stroke-width="1">
<rect x="677" y="908" width="20" height="20" fill="#f6e028"/>
<rect x="697" y="908" width="21" height="20" fill="#f6c030"/>
<rect x="718" y="908" width="20" height="20" fill="#f09038"/>
<rect x="759" y="908" width="20" height="20" fill="#ccd4f2"/>
<rect x="779" y="908" width="19" height="20" fill="#94a4e2"/>
<rect x="798" y="908" width="20" height="20" fill="#7478c8"/>
<rect x="864" y="908" width="20" height="20" fill="#bce2bc"/>
<rect x="884" y="908" width="21" height="20" fill="#3c8a4c"/>
<rect x="678" y="995" width="17" height="22" fill="#f2d8f2"/>
<rect x="695" y="995" width="17" height="22" fill="#eaf8e2"/>
<rect x="712" y="995" width="18" height="22" fill="#f8c0c8"/>
<rect x="730" y="995" width="17" height="22" fill="#a8a8e0"/>
<rect x="747" y="995" width="18" height="22" fill="#b4c2f0"/>
<rect x="778" y="995" width="18" height="22" fill="#f8f8dc"/>
<rect x="796" y="995" width="17" height="22" fill="#f0c8ec"/>
<rect x="813" y="995" width="18" height="22" fill="#f2faf2"/>
<rect x="831" y="995" width="17" height="22" fill="#b8c0e8"/>
</g>
<text class="tm" x="687" y="923" textLength="15" lengthAdjust="spacingAndGlyphs">P1</text>
<text class="tm" x="707.5" y="923" textLength="15" lengthAdjust="spacingAndGlyphs">VD</text>
<text class="tm" x="728" y="923" textLength="15" lengthAdjust="spacingAndGlyphs">P2</text>
<text class="tm" x="769" y="923" textLength="15" lengthAdjust="spacingAndGlyphs">P3</text>
<text class="tm" x="788.5" y="923" textLength="15" lengthAdjust="spacingAndGlyphs">VD</text>
<text class="tm" x="808" y="923" textLength="15" lengthAdjust="spacingAndGlyphs">P4</text>
<text class="tm" x="874" y="923" textLength="15" lengthAdjust="spacingAndGlyphs">A1</text>
<text class="tm" x="894.5" y="923" textLength="15" lengthAdjust="spacingAndGlyphs">B1</text>
<text class="bt" x="678" y="946">P1、VD可外接防火报警</text>
<text class="bt" x="678" y="964">P3、VD可外接连锁启动</text>
<text class="bt" x="678" y="981">A1、B1可用于集控连接</text>
<text class="tm" x="686.5" y="1012" textLength="15" lengthAdjust="spacingAndGlyphs">PE</text>
<text class="tm" x="703.5" y="1012" textLength="13" lengthAdjust="spacingAndGlyphs">L1</text>
<text class="tm" x="721" y="1012" textLength="13" lengthAdjust="spacingAndGlyphs">L2</text>
<text class="tm" x="738.5" y="1012" textLength="13" lengthAdjust="spacingAndGlyphs">L3</text>
<text class="tm" x="756" y="1012">N</text>
<text class="tm" x="787" y="1012">A</text>
<text class="tm" x="804.5" y="1012">B</text>
<text class="tm" x="822" y="1012" textLength="15" lengthAdjust="spacingAndGlyphs">5V</text>
<text class="tm" x="839.5" y="1012" textLength="15" lengthAdjust="spacingAndGlyphs">GN</text>
<path class="w" d="M687 1017V1090M703 1017V1090M719 1017V1090M736 1017V1090M752 1017V1090M786 1017V1090M803 1017V1090M821 1017V1090M838 1017V1090"/>
<path d="M678 1090H696M681.5 1093.5H692.5M685 1097H689" stroke="#111" stroke-width="1.3"/>
<text class="lb" x="683" y="1116">三相五线制</text>
<text class="lb" x="708" y="1134">配线</text>
<text class="ac" x="698" y="1151">AC 380V</text>
<text class="lb" x="777" y="1116">智能液晶控</text>
<text class="lb" x="779" y="1134">制器(4路)</text>
<!-- controller 2 -->
<rect x="868" y="1085" width="64" height="63" fill="#e9e5dc" stroke="#c8c4bc"/>
<rect x="874" y="1091" width="52" height="50" fill="#c4c8c0" stroke="#7a7a7a"/>
<path d="M899 1093V1132M876 1132H924M900 1110H924" stroke="#777" stroke-width=".6" fill="none"/>
<text x="878" y="1101" font-size="5" fill="#333">20.2°</text>
<text x="906" y="1099" font-size="5" fill="#333">38.88</text>
<text x="878" y="1114" font-size="4.5" fill="#333">OF OF</text>
<text x="877" y="1125" font-size="4.5" fill="#333">▾▴ 88:88</text>
<text x="906" y="1125" font-size="4.5" fill="#333">-28.5</text>
<text x="878" y="1139" font-size="4.5" fill="#333">I  ◯      Fn</text>

<!-- Notes col 1 -->
<text class="sm" x="124" y="1189">说 明</text>
<path d="M123 1194H165" stroke="#2a8ab0" stroke-width="2"/>
<text class="nn"><tspan x="111" y="1217">1</tspan><tspan x="111" y="1233.5">2</tspan><tspan x="111" y="1250">3</tspan><tspan x="111" y="1266.5">4</tspan></text>
<text class="nt"><tspan x="124" y="1217">单相220V/50Hz配电；</tspan><tspan x="124" y="1233.5">调速开关可以高、低速调节风机转速；</tspan><tspan x="124" y="1250">风机中速档可用于现场调整；</tspan><tspan x="124" y="1266.5">电机内置过热保护，过热自动停机，温</tspan><tspan x="124" y="1283">度降低时自动恢复运转。</tspan></text>

<!-- Notes col 2 -->
<text class="sm" x="387" y="1189">说 明</text>
<path d="M386 1194H428" stroke="#2a8ab0" stroke-width="2"/>
<text class="nn"><tspan x="375" y="1217">1</tspan><tspan x="375" y="1233.5">2</tspan><tspan x="375" y="1267">3</tspan><tspan x="375" y="1300">4</tspan></text>
<text class="nt"><tspan x="388" y="1217">单相220V/50Hz配电；</tspan><tspan x="388" y="1233.5">智能液晶控制器与控制箱连线建议采用四</tspan><tspan x="388" y="1250">芯屏蔽线；</tspan><tspan x="388" y="1267">智能液晶控制器与控制箱的布线距离最长</tspan><tspan x="388" y="1283.5">不能超过1000米；</tspan><tspan x="388" y="1300">防火报警关机、连锁启动、集控连接为可</tspan><tspan x="388" y="1316.5">选。</tspan></text>

<!-- Notes col 3 -->
<text class="sm" x="687" y="1189">说 明</text>
<path d="M686 1194H728" stroke="#2a8ab0" stroke-width="2"/>
<text class="nn"><tspan x="674" y="1217">1</tspan><tspan x="674" y="1233.5">2</tspan><tspan x="674" y="1267">3</tspan><tspan x="674" y="1300">4</tspan></text>
<text class="nt"><tspan x="688" y="1217">三相380V/50Hz配电，需接入零线；</tspan><tspan x="688" y="1233.5">智能液晶控制器与控制箱连线建议采用四</tspan><tspan x="688" y="1250">芯屏蔽线；</tspan><tspan x="688" y="1267">智能液晶控制器与控制箱的布线距离最长</tspan><tspan x="688" y="1283.5">不能超过1000米；</tspan><tspan x="688" y="1300">防火报警关机、连锁启动、集控连接为可</tspan><tspan x="688" y="1316.5">选。</tspan></text>
</svg>
</body></html>
